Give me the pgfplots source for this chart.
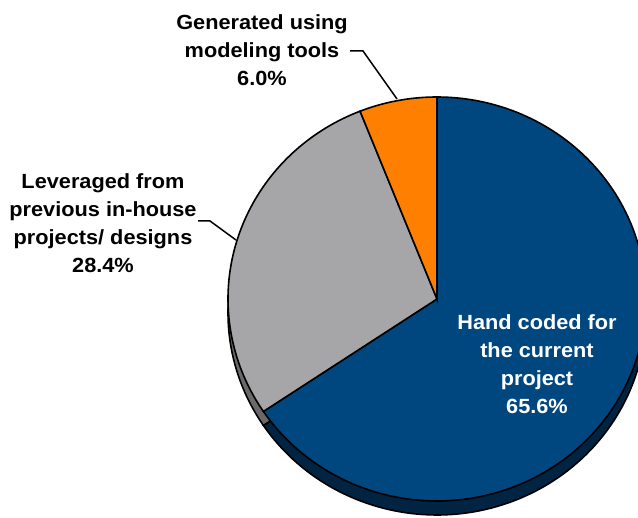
\documentclass[border=0pt]{standalone}
\usepackage{fontspec}
\setmainfont{Liberation Sans}
\usepackage{pgfplots}
\pgfplotsset{compat=1.18}
\definecolor{pieblue}{RGB}{0,71,128}
\definecolor{piegray}{RGB}{166,166,168}
\definecolor{pieorange}{RGB}{255,128,0}
\definecolor{sideblue}{RGB}{0,36,66}
\definecolor{sidegray}{RGB}{105,105,105}
\begin{document}
\begin{tikzpicture}
\def\vHand{65.6}
\def\vLev{28.4}
\def\vGen{6.0}
\pgfmathsetmacro{\aA}{90}
\pgfmathsetmacro{\aB}{90-\vHand*3.6}
\pgfmathsetmacro{\aC}{\aB-\vLev*3.6}
\pgfmathsetmacro{\aD}{\aC-\vGen*3.6}
\def\cx{437}
\def\cy{219}
\def\rx{209}
\def\ry{202}
\def\dep{14}
\begin{axis}[scale only axis, width=638pt, height=518pt,
  xmin=0, xmax=638, ymin=0, ymax=518, hide axis, clip=true]
% sides (depth)
\addplot[fill=sideblue, draw=black, line width=1.6pt, domain=\aB:\aA, samples=150, variable=\t]
  ({\cx+\rx*cos(\t)},{\cy-\dep+\ry*sin(\t)}) -- (\cx,\cy-\dep) -- cycle;
\addplot[fill=sidegray, draw=black, line width=1.6pt, domain=\aC:\aB, samples=80, variable=\t]
  ({\cx+\rx*cos(\t)},{\cy-\dep+\ry*sin(\t)}) -- (\cx,\cy-\dep) -- cycle;
% faces
\addplot[fill=pieblue, draw=black, line width=1.6pt, domain=\aB:\aA, samples=150, variable=\t]
  ({\cx+\rx*cos(\t)},{\cy+\ry*sin(\t)}) -- (\cx,\cy) -- cycle;
\addplot[fill=piegray, draw=black, line width=1.6pt, domain=\aC:\aB, samples=80, variable=\t]
  ({\cx+\rx*cos(\t)},{\cy+\ry*sin(\t)}) -- (\cx,\cy) -- cycle;
\addplot[fill=pieorange, draw=black, line width=1.6pt, domain=\aD:\aC, samples=30, variable=\t]
  ({\cx+\rx*cos(\t)},{\cy+\ry*sin(\t)}) -- (\cx,\cy) -- cycle;
% leader lines
\draw[black, line width=1.5pt] (350,467) -- (363,467) -- (397,419);
\draw[black, line width=1.5pt] (198,297) -- (210,297) -- (236,278);
% labels
\node[align=center, inner sep=0pt, xscale=1.06, font=\fontsize{20.5}{28}\selectfont\bfseries] at (262,468)
  {Generated using\\modeling tools\\6.0\%};
\node[align=center, inner sep=0pt, xscale=1.06, font=\fontsize{20.5}{28}\selectfont\bfseries] at (103,295)
  {Leveraged from\\previous in-house\\projects/ designs\\28.4\%};
\node[align=center, inner sep=0pt, xscale=1.06, text=white, font=\fontsize{20.5}{28}\selectfont\bfseries] at (537,154)
  {Hand coded for\\the current\\project\\65.6\%};
\end{axis}
\pgfresetboundingbox
\path[use as bounding box] (current axis.south west) rectangle (current axis.north east);
\end{tikzpicture}
\end{document}
